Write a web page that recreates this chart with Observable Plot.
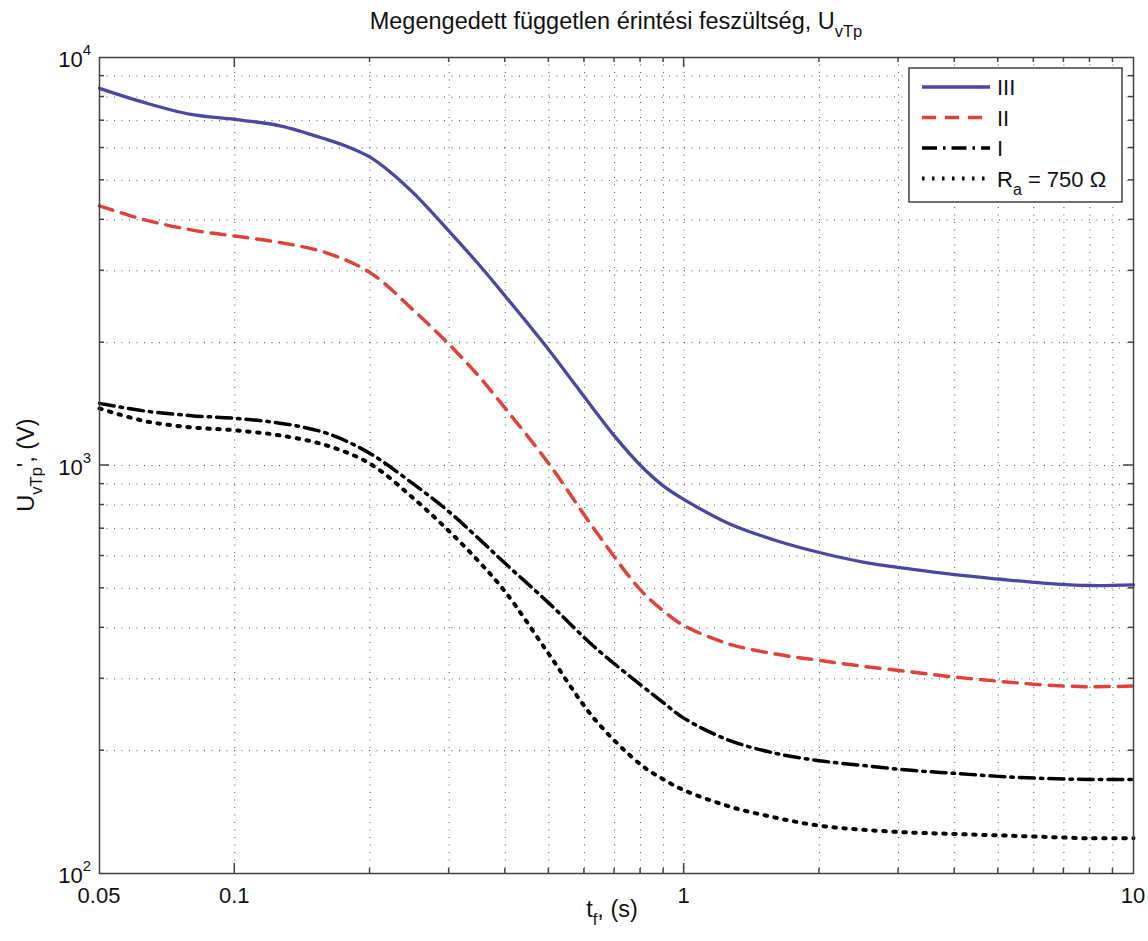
<!DOCTYPE html>
<html><head><meta charset="utf-8">
<script src="https://cdn.jsdelivr.net/npm/d3@7"></script>
<script src="https://cdn.jsdelivr.net/npm/@observablehq/plot@0.6"></script>
<style>body{margin:0;background:#fff} svg{display:block}</style>
</head><body><div id="chart"></div>
<script>
// time axis samples (s) per series
const t3 = [0.05, 0.063, 0.08, 0.1, 0.126, 0.16, 0.18, 0.2, 0.22, 0.25, 0.3, 0.35, 0.4, 0.5, 0.63, 0.7, 0.8, 0.9, 1, 1.26, 1.6, 2, 2.5, 3.2, 4, 5, 6.3, 8, 10];
const uIII = [8400, 7750, 7250, 7050, 6800, 6300, 6020, 5700, 5280, 4650, 3750, 3100, 2600, 1920, 1370, 1180, 1000, 890, 825, 720, 655, 612, 580, 557, 540, 527, 515, 508, 510];
const t = [0.05, 0.063, 0.08, 0.1, 0.126, 0.16, 0.2, 0.25, 0.3, 0.35, 0.4, 0.5, 0.63, 0.8, 0.9, 1, 1.26, 1.6, 2, 2.5, 3.2, 4, 5, 6.3, 8, 10];
const uII  = [4330, 4000, 3780, 3650, 3520, 3320, 2970, 2400, 1980, 1650, 1380, 1010, 700, 495, 440, 405, 365, 345, 333, 322, 312, 303, 296, 290, 287, 288];
const uI   = [1420, 1360, 1325, 1305, 1270, 1200, 1070, 900, 770, 660, 575, 460, 360, 290, 262, 240, 212, 197, 189, 184, 179, 176, 173, 171, 170, 170];
const uRa  = [1380, 1285, 1240, 1220, 1185, 1120, 1010, 830, 690, 580, 490, 345, 240, 185, 170, 160, 146, 137, 131, 128, 126, 125, 124, 123, 122, 122];
const seriesNames = ["III", "II", "I", "Ra"];

// tick labels
const xTickLabels = [0.05, 0.1, 1, 10];
const xMajorTicks = [0.1, 1];
const xMinorTicks = [0.2,0.3,0.4,0.5,0.6,0.7,0.8,0.9,2,3,4,5,6,7,8,9];
const yTickExp = [2, 3, 4];
const yMajorTicks = [1000];
const yMinorTicks = [200,300,400,500,600,700,800,900,2000,3000,4000,5000,6000,7000,8000,9000];

const styles = {
  III: {stroke: "#4848a0", strokeDasharray: null, width: 3.3},
  II:  {stroke: "#e0413a", strokeDasharray: "14,9", width: 3.5},
  I:   {stroke: "#000000", strokeDasharray: "15,6,2.5,6", width: 3.5},
  Ra:  {stroke: "#000000", strokeDasharray: "2.5,7.5", width: 4}
};
const values = {III: [t3, uIII], II: [t, uII], I: [t, uI], Ra: [t, uRa]};
const rows = name => values[name][0].map((x, i) => ({t: x, u: values[name][1][i]}));

const FONT = "Liberation Sans, Arial, Helvetica, sans-serif";
const gridStyle = {stroke: "#222", strokeWidth: 1, strokeDasharray: "1,6.5", strokeOpacity: 0.8};

const chart = Plot.plot({
  width: 1148, height: 941,
  marginLeft: 99, marginRight: 15, marginTop: 57, marginBottom: 68,
  x: {type: "log", domain: [0.05, 10], axis: null},
  y: {type: "log", domain: [100, 10000], axis: null},
  style: {fontFamily: FONT, background: "white"},
  marks: [
    Plot.ruleX([...xMajorTicks, ...xMinorTicks], gridStyle),
    Plot.ruleY([...yMajorTicks, ...yMinorTicks], gridStyle),
    ...seriesNames.map(n => Plot.line(rows(n), {
      x: "t", y: "u", stroke: styles[n].stroke, strokeWidth: styles[n].width,
      strokeDasharray: styles[n].strokeDasharray, curve: "catmull-rom"
    })),
    Plot.frame({stroke: "#404040", strokeWidth: 1.5})
  ]
});
document.getElementById("chart").appendChild(chart);

const X = chart.scale("x"), Y = chart.scale("y");
const svg = d3.select(chart);
const x0 = X.apply(0.05), x1 = X.apply(10), yb = Y.apply(100), yt = Y.apply(10000);
const g = svg.append("g").attr("stroke", "#404040").attr("stroke-width", 1.5);
function xt(v, len) {
  const px = X.apply(v);
  g.append("line").attr("x1", px).attr("x2", px).attr("y1", yb).attr("y2", yb - len);
  g.append("line").attr("x1", px).attr("x2", px).attr("y1", yt).attr("y2", yt + len);
}
function yt_(v, len) {
  const py = Y.apply(v);
  g.append("line").attr("y1", py).attr("y2", py).attr("x1", x0).attr("x2", x0 + len);
  g.append("line").attr("y1", py).attr("y2", py).attr("x1", x1).attr("x2", x1 - len);
}
xMajorTicks.forEach(v => xt(v, 10)); xMinorTicks.forEach(v => xt(v, 5));
yMajorTicks.forEach(v => yt_(v, 10)); yMinorTicks.forEach(v => yt_(v, 5));

const txt = svg.append("g").attr("font-family", FONT).attr("fill", "#111").attr("font-size", 22);
xTickLabels.forEach(v => {
  txt.append("text").attr("x", X.apply(v)).attr("y", yb + 30).attr("text-anchor", "middle").text(String(v));
});
yTickExp.forEach(e => {
  const tx = txt.append("text").attr("x", x0 - 8).attr("y", Y.apply(10 ** e) + 10).attr("text-anchor", "end");
  tx.append("tspan").text("10");
  tx.append("tspan").attr("font-size", 15).attr("dy", -12).text(String(e));
});

// title
const title = txt.append("text").attr("x", (x0 + x1) / 2).attr("y", 29).attr("text-anchor", "middle").attr("font-size", 23.5);
title.append("tspan").text("Megengedett független érintési feszültség, U");
title.append("tspan").attr("font-size", 16.5).attr("dy", 8).text("vTp");

// x label
const xl = txt.append("text").attr("x", (x0 + x1) / 2 - 4).attr("y", yb + 44).attr("text-anchor", "middle").attr("font-size", 23.5);
xl.append("tspan").text("t");
xl.append("tspan").attr("font-size", 16.5).attr("dy", 8).text("f");
xl.append("tspan").attr("dy", -8).text(", (s)");

// y label
const yl = txt.append("text").attr("transform", `translate(34,${(yt + yb) / 2}) rotate(-90)`).attr("text-anchor", "middle").attr("font-size", 23.5);
yl.append("tspan").text("U");
yl.append("tspan").attr("font-size", 16.5).attr("dy", 8).text("vTp");
yl.append("tspan").attr("dy", -8).text("', (V)");

// legend
const lg = svg.append("g");
lg.append("rect").attr("x", 909).attr("y", 68).attr("width", 213).attr("height", 134)
  .attr("fill", "white").attr("stroke", "#404040").attr("stroke-width", 1.5);
seriesNames.forEach((n, i) => {
  const ly = 87 + i * 30.5;
  lg.append("line").attr("x1", 922).attr("x2", 990).attr("y1", ly).attr("y2", ly)
    .attr("stroke", styles[n].stroke).attr("stroke-width", styles[n].width)
    .attr("stroke-dasharray", styles[n].strokeDasharray);
  const lt = lg.append("text").attr("x", 997).attr("y", ly + 8).attr("text-anchor", "start")
    .attr("font-family", FONT).attr("font-size", 22).attr("fill", "#111");
  if (n === "Ra") {
    lt.append("tspan").text("R");
    lt.append("tspan").attr("font-size", 16).attr("dy", 8).text("a");
    lt.append("tspan").attr("dy", -8).text(" = 750 Ω");
  } else {
    lt.text(n);
  }
});
</script>
</body></html>
